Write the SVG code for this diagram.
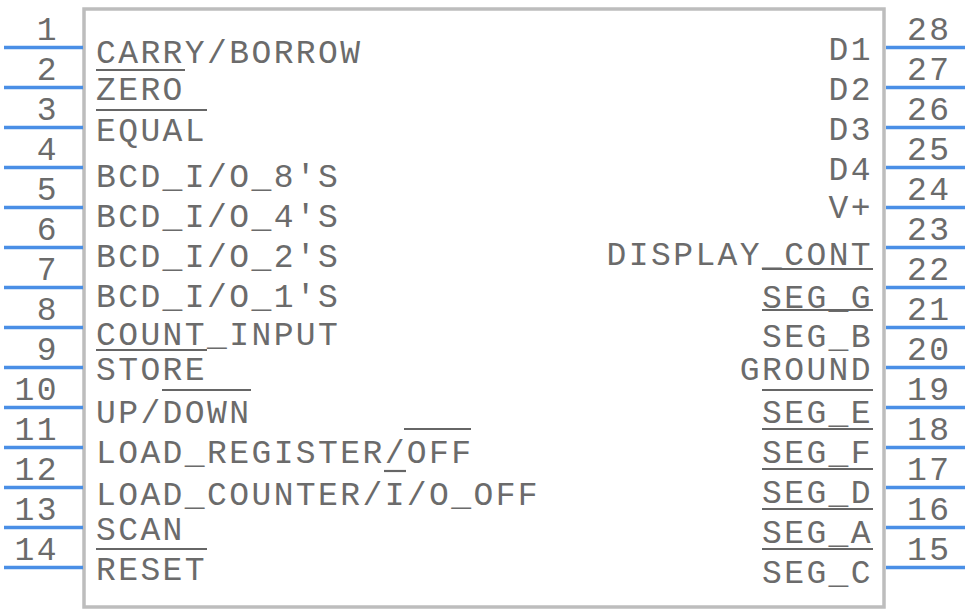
<svg xmlns="http://www.w3.org/2000/svg" width="968" height="612" viewBox="0 0 968 612">
<style>
.body{fill:#ffffff;stroke:#bdbdbd;stroke-width:3.5}
.pin{stroke:#4a8fe6;stroke-width:3.5}
.t{font-family:"Liberation Mono",monospace;font-size:33px;letter-spacing:2.4px;fill:#6b6b6b}
.ob{stroke:#666666;stroke-width:2.2}
</style>
<rect width="968" height="612" fill="#ffffff"/>
<g id="body"><rect class="body" x="84" y="9" width="800" height="598"/></g>
<g id="pins-left">
<g id="pin1"><line class="pin" x1="4" y1="47.5" x2="83" y2="47.5"/><text class="t" x="36.8" y="40">1</text><text class="t" x="96" y="63">CARRY/BORROW</text></g>
<g id="pin2"><line class="pin" x1="4" y1="87.5" x2="83" y2="87.5"/><text class="t" x="36.8" y="80">2</text><text class="t" x="96" y="100">ZERO</text><line class="ob" x1="96" y1="70" x2="185" y2="70"/></g>
<g id="pin3"><line class="pin" x1="4" y1="127.5" x2="83" y2="127.5"/><text class="t" x="36.8" y="120">3</text><text class="t" x="96" y="141">EQUAL</text><line class="ob" x1="96" y1="110" x2="207" y2="110"/></g>
<g id="pin4"><line class="pin" x1="4" y1="167.5" x2="83" y2="167.5"/><text class="t" x="36.8" y="160">4</text><text class="t" x="96" y="187">BCD_I/O_8'S</text></g>
<g id="pin5"><line class="pin" x1="4" y1="207.5" x2="83" y2="207.5"/><text class="t" x="36.8" y="200">5</text><text class="t" x="96" y="227">BCD_I/O_4'S</text></g>
<g id="pin6"><line class="pin" x1="4" y1="247.5" x2="83" y2="247.5"/><text class="t" x="36.8" y="240">6</text><text class="t" x="96" y="267">BCD_I/O_2'S</text></g>
<g id="pin7"><line class="pin" x1="4" y1="287.5" x2="83" y2="287.5"/><text class="t" x="36.8" y="280">7</text><text class="t" x="96" y="307">BCD_I/O_1'S</text></g>
<g id="pin8"><line class="pin" x1="4" y1="327.5" x2="83" y2="327.5"/><text class="t" x="36.8" y="320">8</text><text class="t" x="96" y="345">COUNT_INPUT</text></g>
<g id="pin9"><line class="pin" x1="4" y1="367.5" x2="83" y2="367.5"/><text class="t" x="36.8" y="360">9</text><text class="t" x="96" y="380">STORE</text><line class="ob" x1="96" y1="350" x2="207" y2="350"/></g>
<g id="pin10"><line class="pin" x1="4" y1="407.5" x2="83" y2="407.5"/><text class="t" x="14.6" y="400">10</text><text class="t" x="96" y="423">UP/DOWN</text><line class="ob" x1="162" y1="390" x2="251" y2="390"/></g>
<g id="pin11"><line class="pin" x1="4" y1="447.5" x2="83" y2="447.5"/><text class="t" x="14.6" y="440">11</text><text class="t" x="96" y="463">LOAD_REGISTER/OFF</text><line class="ob" x1="404" y1="429" x2="471" y2="429"/></g>
<g id="pin12"><line class="pin" x1="4" y1="487.5" x2="83" y2="487.5"/><text class="t" x="14.6" y="480">12</text><text class="t" x="96" y="505">LOAD_COUNTER/I/O_OFF</text><line class="ob" x1="384" y1="471" x2="406" y2="471"/></g>
<g id="pin13"><line class="pin" x1="4" y1="527.5" x2="83" y2="527.5"/><text class="t" x="14.6" y="520">13</text><text class="t" x="96" y="540">SCAN</text></g>
<g id="pin14"><line class="pin" x1="4" y1="567.5" x2="83" y2="567.5"/><text class="t" x="14.6" y="560">14</text><text class="t" x="96" y="580">RESET</text><line class="ob" x1="96" y1="549" x2="207" y2="549"/></g>
</g>
<g id="pins-right">
<g id="pin28"><line class="pin" x1="886" y1="47.5" x2="965" y2="47.5"/><text class="t" x="907" y="40">28</text><text class="t" x="828.6" y="60">D1</text></g>
<g id="pin27"><line class="pin" x1="886" y1="87.5" x2="965" y2="87.5"/><text class="t" x="907" y="80">27</text><text class="t" x="828.6" y="100">D2</text></g>
<g id="pin26"><line class="pin" x1="886" y1="127.5" x2="965" y2="127.5"/><text class="t" x="907" y="120">26</text><text class="t" x="828.6" y="140">D3</text></g>
<g id="pin25"><line class="pin" x1="886" y1="167.5" x2="965" y2="167.5"/><text class="t" x="907" y="160">25</text><text class="t" x="828.6" y="180">D4</text></g>
<g id="pin24"><line class="pin" x1="886" y1="207.5" x2="965" y2="207.5"/><text class="t" x="907" y="200">24</text><text class="t" x="828.6" y="218">V+</text></g>
<g id="pin23"><line class="pin" x1="886" y1="247.5" x2="965" y2="247.5"/><text class="t" x="907" y="240">23</text><text class="t" x="606.6" y="265">DISPLAY_CONT</text></g>
<g id="pin22"><line class="pin" x1="886" y1="287.5" x2="965" y2="287.5"/><text class="t" x="907" y="280">22</text><text class="t" x="762" y="308">SEG_G</text><line class="ob" x1="762" y1="269" x2="873" y2="269"/></g>
<g id="pin21"><line class="pin" x1="886" y1="327.5" x2="965" y2="327.5"/><text class="t" x="907" y="320">21</text><text class="t" x="762" y="347">SEG_B</text><line class="ob" x1="762" y1="310" x2="873" y2="310"/></g>
<g id="pin20"><line class="pin" x1="886" y1="367.5" x2="965" y2="367.5"/><text class="t" x="907" y="360">20</text><text class="t" x="739.8" y="380">GROUND</text></g>
<g id="pin19"><line class="pin" x1="886" y1="407.5" x2="965" y2="407.5"/><text class="t" x="907" y="400">19</text><text class="t" x="762" y="423">SEG_E</text><line class="ob" x1="762" y1="390" x2="873" y2="390"/></g>
<g id="pin18"><line class="pin" x1="886" y1="447.5" x2="965" y2="447.5"/><text class="t" x="907" y="440">18</text><text class="t" x="762" y="463">SEG_F</text><line class="ob" x1="762" y1="429" x2="873" y2="429"/></g>
<g id="pin17"><line class="pin" x1="886" y1="487.5" x2="965" y2="487.5"/><text class="t" x="907" y="480">17</text><text class="t" x="762" y="503">SEG_D</text><line class="ob" x1="762" y1="469" x2="873" y2="469"/></g>
<g id="pin16"><line class="pin" x1="886" y1="527.5" x2="965" y2="527.5"/><text class="t" x="907" y="520">16</text><text class="t" x="762" y="543">SEG_A</text><line class="ob" x1="762" y1="509" x2="873" y2="509"/></g>
<g id="pin15"><line class="pin" x1="886" y1="567.5" x2="965" y2="567.5"/><text class="t" x="907" y="560">15</text><text class="t" x="762" y="583">SEG_C</text><line class="ob" x1="762" y1="549" x2="873" y2="549"/></g>
</g>
</svg>
